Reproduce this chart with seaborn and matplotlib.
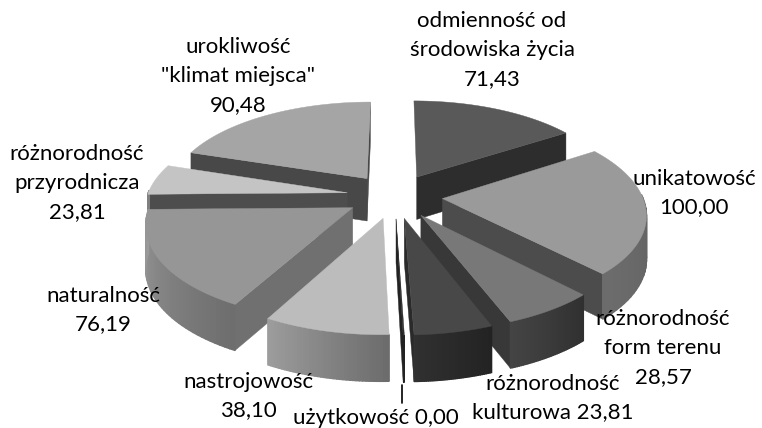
import numpy as np
import seaborn as sns
import matplotlib.pyplot as plt
from matplotlib.colors import to_rgb

names = ['odmienność', 'unikatowość', 'różnorodność form', 'różnorodność kult', 'użytkowość',
         'nastrojowość', 'naturalność', 'różnorodność przyr', 'urokliwość']
values = [71.43, 100.00, 28.57, 23.81, 0.00, 38.10, 76.19, 23.81, 90.48]

top_colors = ['#595959', '#9a9a9a', '#787878', '#484848', '#2c2c2c', '#bcbcbc', '#969696', '#c4c4c4', '#a5a5a5']
wall_colors = ['#2d2d2d', '#4c4c4c', '#383838', '#2a2a2a', '#222222', '#8a8a8a', '#707070', '#4d4d4d', '#484848']
rim_left = ['#404040', '#5a5a5a', '#303030', '#232323', '#222222', '#9c9c9c', '#9a9a9a', '#808080', '#808080']
rim_right = ['#303030', '#6c6c6c', '#444444', '#303030', '#222222', '#6c6c6c', '#6e6e6e', '#808080', '#808080']

label_text = ['odmienność od\nśrodowiska życia\n71,43', 'unikatowość\n100,00',
              'różnorodność\nform terenu\n28,57', 'różnorodność\nkulturowa 23,81',
              'użytkowość 0,00', 'nastrojowość\n38,10', 'naturalność\n76,19',
              'różnorodność\nprzyrodnicza\n23,81', 'urokliwość\n"klimat miejsca"\n90,48']
label_x = [492, 694, 663, 553, 376, 248, 103, 77, 238]
label_y = [50, 193, 348, 398, 418, 396, 310, 183, 76]

sns.set_theme(style='white')
plt.rcParams['font.family'] = ['Lato', 'DejaVu Sans']

CX, CY = 394.5, 196
RX, RY = 200, 92.3
PERSP = 0.145
EXPLODE = 0.24


def project(u, v):
    w = 1 + PERSP * v
    return CX + RX * u / w, CY - RY * v / w


def depth(v):
    return 43 - 3 * v


fig, ax = plt.subplots(figsize=(7.62, 4.28), dpi=100)
fig.subplots_adjust(0, 0, 1, 1)
ax.set_xlim(0, 762)
ax.set_ylim(428, 0)
ax.axis('off')

vals = np.array(values)
angles = vals / vals.sum() * 2 * np.pi
starts = np.concatenate([[0], np.cumsum(angles)[:-1]])
order = np.argsort(-np.cos(starts + angles / 2))


def quad(x, y, color, z, lw=0.3):
    ax.fill(x, y, facecolor=color, edgecolor=color, linewidth=lw, zorder=z)


for z, i in enumerate(order):
    a0 = starts[i]
    a1 = a0 + max(angles[i], 0.005)  # zero slice still shows as a sliver
    mid = (a0 + a1) / 2
    eu, ev = EXPLODE * np.sin(mid), EXPLODE * np.cos(mid)
    th = np.linspace(a0, a1, 40)
    u = eu + np.sin(th)
    v = ev + np.cos(th)
    x, y = project(u, v)
    ax_, ay_ = project(eu, ev)
    rim_lw = 1.0 if angles[i] > 0 else 0.2

    # side walls along the two radii, only those facing the viewer
    for edge, vis in ((0, np.sin(a0) < 0), (-1, np.sin(a1) > 0)):
        if vis:
            wx = [ax_, x[edge], x[edge], ax_]
            wy = [ay_, y[edge], y[edge] + depth(v[edge]), ay_ + depth(ev)]
            quad(wx, wy, wall_colors[i], z * 3 + 1)

    # outer rim with a horizontal shade
    c0 = np.array(to_rgb(rim_left[i]))
    c1 = np.array(to_rgb(rim_right[i]))
    for k in range(len(th) - 1):
        if np.cos(th[k]) > 0.02 and np.cos(th[k + 1]) > 0.02:
            continue
        t = k / (len(th) - 2)
        col = c1 + (c0 - c1) * t if np.sin(mid) < 0 else c0 + (c1 - c0) * t
        quad([x[k], x[k + 1], x[k + 1], x[k]],
             [y[k], y[k + 1], y[k + 1] + depth(v[k + 1]), y[k] + depth(v[k])],
             col, z * 3 + 1, lw=rim_lw)

    # top face
    quad(np.r_[ax_, x], np.r_[ay_, y], top_colors[i], z * 3 + 2)

for txt, lx, ly in zip(label_text, label_x, label_y):
    ax.text(lx, ly, txt, ha='center', va='center', fontsize=16, color='black',
            linespacing=1.55, zorder=100)

ax.plot([402, 402], [385, 403], color='black', lw=1.2, zorder=100)

fig.savefig('out.png', dpi=100)
